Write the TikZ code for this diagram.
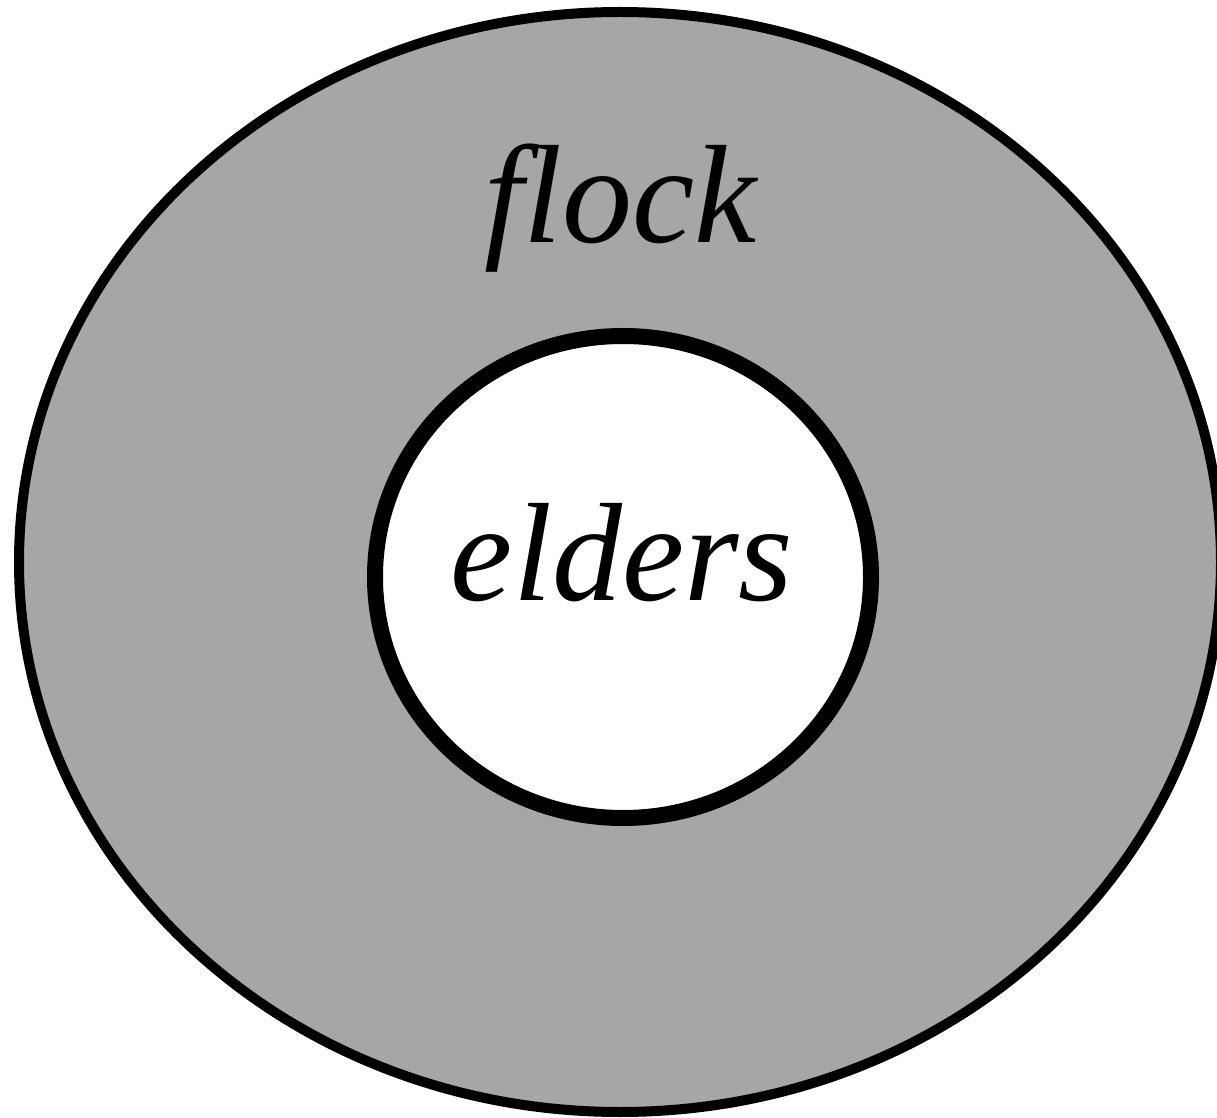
\documentclass[tikz,border=0pt]{standalone}
\usepackage{fontspec}
\setmainfont{LiberationSerif}[Extension=.ttf, UprightFont=*-Regular, ItalicFont=*-Italic]
\usepackage{xcolor}
\usepackage{tikz}
\definecolor{flockfill}{HTML}{A6A6A6}
\tikzset{
  outerring/.style={draw=black, line width=5pt, fill=flockfill},
  innerring/.style={draw=black, line width=8pt, fill=white},
  word/.style={font=\fontsize{70}{84}\selectfont\itshape, anchor=base, inner sep=0pt}
}

\begin{document}
\begin{tikzpicture}[x=0.5pt,y=-0.5pt]
\path[use as bounding box] (0,0) rectangle (1217,1118);
\clip (0,0) rectangle (1217,1118);
\fill[white] (0,0) rectangle (1217,1118);

% the flock and the elders inside it
\draw[outerring] (620,562) ellipse [x radius=601, y radius=550];
\draw[innerring] (623,577) ellipse [x radius=248, y radius=241];

\node[word] (flock) at (621,243) {flock};
\node[word] (elders) at (622,600) {elders};
\end{tikzpicture}
\end{document}
